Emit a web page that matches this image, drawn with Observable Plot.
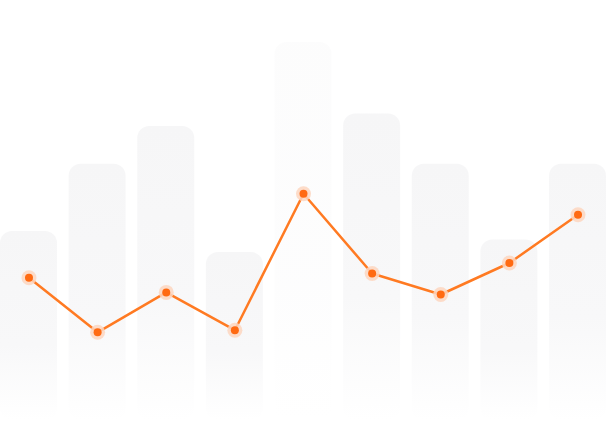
<!DOCTYPE html>
<html>
<head>
<meta charset="utf-8">
<script src="https://cdn.jsdelivr.net/npm/d3@7"></script>
<script src="https://cdn.jsdelivr.net/npm/@observablehq/plot@0.6"></script>
<style>
  html, body { margin: 0; padding: 0; background: #fff; }
  #chart svg { display: block; }
</style>
</head>
<body>
<div id="chart"></div>
<script>
const categories = ["1", "2", "3", "4", "5", "6", "7", "8", "9"];
const barValues = [45, 61, 70, 40, 90, 73, 61, 43, 61];
const lineValues = [34, 21, 30.5, 21.5, 54, 35, 30, 37.5, 49];

const data = categories.map((c, i) => ({ cat: c, bar: barValues[i], line: lineValues[i] }));
const maxBar = d3.max(barValues);

const chart = Plot.plot({
  width: 606,
  height: 434,
  marginTop: 0,
  marginRight: 0,
  marginBottom: 14,
  marginLeft: 0,
  x: { domain: categories, paddingInner: 0.17, paddingOuter: 0, round: false, axis: null },
  y: { domain: [0, 100], axis: null },
  marks: [
    Plot.barY(data.filter(d => d.bar !== maxBar), { x: "cat", y: "bar", fill: "url(#barGrad)", rx: 12 }),
    Plot.barY(data.filter(d => d.bar === maxBar), { x: "cat", y: "bar", fill: "url(#barGrad)", fillOpacity: 0.32, rx: 12 }),
    Plot.line(data, { x: "cat", y: "line", stroke: "#ff7a22", strokeWidth: 2.5 }),
    Plot.dot(data, { x: "cat", y: "line", r: 7.5, fill: "#fdd6bf", fillOpacity: 0.85 }),
    Plot.dot(data, { x: "cat", y: "line", r: 4, fill: "#ff6a12" })
  ]
});

d3.select(chart).insert("defs", ":first-child").html(`
  <linearGradient id="barGrad" x1="0" y1="0" x2="0" y2="1">
    <stop offset="0" stop-color="#f6f6f7"/>
    <stop offset="0.6" stop-color="#f8f8f9"/>
    <stop offset="1" stop-color="#ffffff"/>
  </linearGradient>`);

document.getElementById("chart").appendChild(chart);
</script>
</body>
</html>
